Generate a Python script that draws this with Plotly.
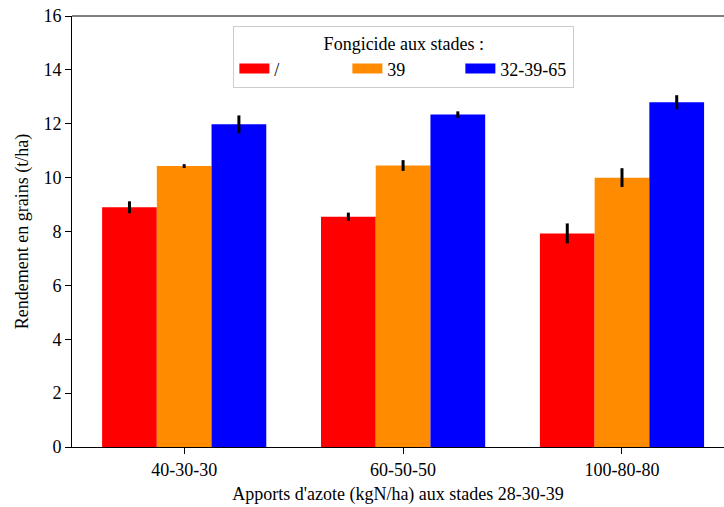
import plotly.graph_objects as go

categories = ["40-30-30", "60-50-50", "100-80-80"]
series_names = ["/", "39", "32-39-65"]
colors = ["#ff0000", "#ff8c00", "#0000ff"]
values = [
    [8.90, 8.55, 7.93],
    [10.43, 10.45, 10.00],
    [11.98, 12.34, 12.80],
]
errors = [
    [0.22, 0.15, 0.37],
    [0.07, 0.20, 0.35],
    [0.33, 0.12, 0.26],
]
y_ticks = [0, 2, 4, 6, 8, 10, 12, 14, 16]

FONT = "Liberation Serif"

fig = go.Figure()
for name, col, vals, errs in zip(series_names, colors, values, errors):
    fig.add_trace(go.Bar(
        x=categories, y=vals, name=name, marker=dict(color=col, line=dict(width=0)),
        error_y=dict(type="data", array=errs, color="black", thickness=3, width=0),
        showlegend=False,
    ))
for name, col in zip(series_names, colors):
    fig.add_trace(go.Scatter(
        x=[None], y=[None], mode="lines", name=name,
        line=dict(color=col, width=14), showlegend=True, hoverinfo="skip",
    ))

fig.add_shape(type="line", xref="paper", yref="paper", x0=0, x1=1, y0=1, y1=1,
              line=dict(color="black", width=1))

fig.update_layout(
    width=724, height=507,
    margin=dict(l=72, r=0, t=16, b=60, autoexpand=False),
    paper_bgcolor="white", plot_bgcolor="white",
    font=dict(family=FONT, size=18, color="black"),
    barmode="group", bargap=0.25, bargroupgap=0,
    legend=dict(
        orientation="h", x=0.509, xanchor="center", y=0.977, yanchor="top",
        title=dict(text="Fongicide aux stades :", side="top center",
                   font=dict(family=FONT, size=18)),
        bordercolor="#cccccc", borderwidth=1, bgcolor="rgba(255,255,255,0.8)",
        entrywidth=68, entrywidthmode="pixels",
        font=dict(family=FONT, size=18), tracegroupgap=0,
    ),
    xaxis=dict(
        range=[-0.5125, 2.466], showline=True, linecolor="black", linewidth=1,
        mirror=False, ticks="outside", ticklen=6, tickcolor="black",
        showgrid=False, zeroline=False,
        tickfont=dict(family=FONT, size=18),
        title=dict(text="Apports d'azote (kgN/ha) aux stades 28-30-39", standoff=8,
                   font=dict(family=FONT, size=18)),
        automargin=False,
    ),
    yaxis=dict(
        range=[0, 16], tickvals=y_ticks, showline=True, linecolor="black", linewidth=1,
        mirror=False, ticks="outside", ticklen=6, tickcolor="black",
        showgrid=False, zeroline=False,
        tickfont=dict(family=FONT, size=18),
        title=dict(text="Rendement en grains (t/ha)", standoff=10,
                   font=dict(family=FONT, size=18)),
        automargin=False,
    ),
)

fig.write_html("out.html", config={"displayModeBar": False, "staticPlot": True},
               post_script="document.body.style.margin='0';")
